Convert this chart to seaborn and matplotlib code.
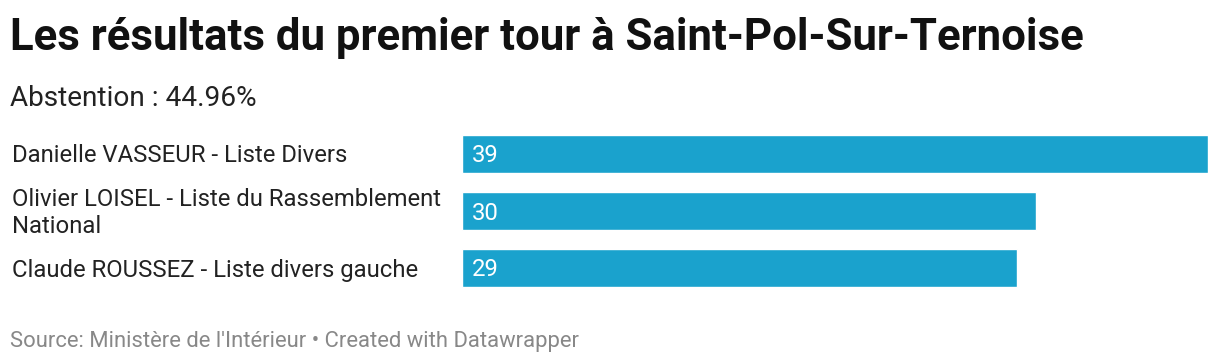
import matplotlib
matplotlib.use("Agg")
import matplotlib.pyplot as plt
import matplotlib.transforms as mtransforms
import seaborn as sns
import pandas as pd

# Data
candidates = [
    "Danielle VASSEUR - Liste Divers",
    "Olivier LOISEL - Liste du Rassemblement\nNational",
    "Claude ROUSSEZ - Liste divers gauche",
]
scores = [39, 30, 29]
title = "Les résultats du premier tour à Saint-Pol-Sur-Ternoise"
subtitle = "Abstention : 44.96%"
source = "Source: Ministère de l'Intérieur • Created with Datawrapper"

BAR_COLOR = "#1aa2cd"

sns.set_theme(style="white")
plt.rcParams['font.family'] = ['Roboto', 'DejaVu Sans']

df = pd.DataFrame({"candidate": candidates, "score": scores})

fig = plt.figure(figsize=(12.2, 3.64), dpi=100)
ax = fig.add_axes([462 / 1220, 1 - 296.5 / 364, 746 / 1220, 171 / 364])

sns.barplot(data=df, x="score", y="candidate", orient="h", color=BAR_COLOR,
            saturation=1, width=0.68, ax=ax)
ax.set_xlim(0, max(scores))
ax.set_ylim(len(candidates) - 0.5, -0.5)
ax.set_axis_off()

# candidate labels on the left, values inside bars (nudged down a couple px)
trans = mtransforms.blended_transform_factory(fig.transFigure, ax.transData)
nudge = mtransforms.ScaledTranslation(0, -2 / 100, fig.dpi_scale_trans)
for i, (name, val) in enumerate(zip(candidates, scores)):
    ax.text(12 / 1220, i, name, transform=trans + nudge, ha="left", va="center",
            fontsize=17.2, color="#222222", linespacing=1.2)
    ax.text(0.5, i, str(val), transform=ax.transData + nudge, ha="left",
            va="center", fontsize=17.2, color="white")

fig.text(10 / 1220, 1 - 38 / 364, title, ha="left", va="center",
         fontsize=31.5, fontweight="bold", color="#111111")
fig.text(10 / 1220, 1 - 99 / 364, subtitle, ha="left", va="center",
         fontsize=20.2, color="#222222")
fig.text(10 / 1220, 1 - 342 / 364, source, ha="left", va="center",
         fontsize=15.8, color="#888888")

fig.savefig("out.png", dpi=100)
